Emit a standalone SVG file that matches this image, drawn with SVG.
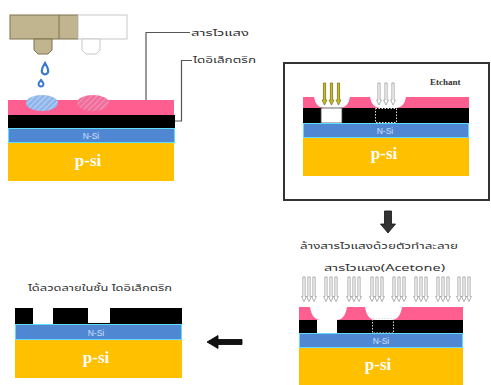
<svg xmlns="http://www.w3.org/2000/svg" width="491" height="385" viewBox="0 0 491 385">
  <defs>
    <style>
      .pink{fill:#ff5f90}
      .black{fill:#000}
      .nsi{fill:#4f87d3;stroke:#5fdcff;stroke-width:1}
      .psi{fill:#ffc000}
      .lbl-n{font-family:"Liberation Sans",Arial,sans-serif;font-size:8.5px;fill:#cfe0ff;text-anchor:middle}
      .lbl-p{font-family:"Liberation Serif","Times New Roman",serif;font-size:17px;font-weight:bold;fill:#fff;text-anchor:middle}
      .thai{font-family:"Noto Sans Thai","Tahoma","Noto Sans","DejaVu Sans",sans-serif;font-size:9.5px;fill:#333}
      .leader{fill:none;stroke:#555;stroke-width:1.2}
      .dots{fill:none;stroke:#ddd;stroke-width:1;stroke-dasharray:1.5 1.5}
      .etch{fill:#cbbd1c;stroke:#6d6510;stroke-width:0.7}
      .rinse{fill:#fff;stroke:#9a9a9a;stroke-width:0.8}
    </style>
    <pattern id="hatchBlue" width="4" height="4" patternUnits="userSpaceOnUse" patternTransform="rotate(45)">
      <rect width="4" height="4" fill="#8fb6ea"/>
      <line x1="0" y1="0" x2="0" y2="4" stroke="#d8e6fb" stroke-width="1.2"/>
    </pattern>
    <pattern id="hatchPink" width="4" height="4" patternUnits="userSpaceOnUse" patternTransform="rotate(45)">
      <rect width="4" height="4" fill="#f06d9c"/>
      <line x1="0" y1="0" x2="0" y2="4" stroke="#f9b3cc" stroke-width="1.2"/>
    </pattern>
    <!-- downward arrows, shaft outlined, origin at top centre -->
    <path id="arrowDown" d="M-1.1,0 V17 H-2.4 L0,22 L2.4,17 H1.1 V0 Z"/>
    <path id="arrowDownLong" d="M-1.1,0 V19.5 H-2.4 L0,24.5 L2.4,19.5 H1.1 V0 Z"/>
    <g id="rinseGroup" class="rinse">
      <use href="#arrowDownLong" x="0"/>
      <use href="#arrowDownLong" x="5"/>
      <use href="#arrowDownLong" x="10"/>
    </g>
  </defs>

  <rect width="491" height="385" fill="#fff"/>

  <!-- Step 1: inkjet printing of photoresist -->
  <g id="step1">
    <g id="printhead">
      <rect x="10" y="15" width="68" height="24" fill="#c1b58f" stroke="#7d734f" stroke-width="1"/>
      <line x1="59" y1="15" x2="59" y2="39" stroke="#7d734f" stroke-width="1"/>
      <rect x="78" y="15" width="49" height="24" fill="#fff" stroke="#c8c8c8" stroke-width="1"/>
      <path d="M34,39 L34,50 L38,54 L48,54 L52,50 L52,39 Z" fill="#c1b58f" stroke="#7d734f" stroke-width="1"/>
      <path d="M82,39 L82,50 L86,54 L96,54 L100,50 L100,39 Z" fill="#fff" stroke="#c8c8c8" stroke-width="1"/>
      <path d="M45,63 Q48,68 48,70 A3.2,3.2 0 1 1 42,70 Q42,68 45,63 Z" fill="#fff" stroke="#3b78d0" stroke-width="2.2"/>
      <path d="M41,80 Q43.5,83 43.5,84 A2.5,2.5 0 1 1 38.5,84 Q38.5,83 41,80 Z" fill="#fff" stroke="#3b78d0" stroke-width="2"/>
    </g>
    <rect class="pink" x="8" y="100" width="166" height="15"/>
    <ellipse cx="42" cy="103" rx="16" ry="8" fill="url(#hatchBlue)"/>
    <ellipse cx="93" cy="103" rx="16" ry="8" fill="url(#hatchPink)"/>
    <rect class="black" x="8" y="115" width="167" height="13"/>
    <rect class="nsi" x="8.5" y="128.5" width="166" height="14"/>
    <rect class="psi" x="8" y="143" width="166" height="38"/>
    <text class="lbl-n" x="91" y="138.5">N-Si</text>
    <text class="lbl-p" x="88" y="166">p-si</text>
    <path class="leader" d="M146,100 V32.5 H190"/>
    <path class="leader" d="M175,121 H181.5 V60.5 H192"/>
    <text class="thai" x="191" y="36" textLength="58" lengthAdjust="spacingAndGlyphs">สารไวแสง</text>
    <text class="thai" x="193" y="63" textLength="63" lengthAdjust="spacingAndGlyphs">ไดอิเล็กตริก</text>
  </g>

  <!-- Step 2: etching through the openings -->
  <g id="step2">
    <rect x="284" y="63" width="205" height="137" fill="#fff" stroke="#333" stroke-width="2"/>
    <text x="430" y="85" font-family="Liberation Serif,'Times New Roman',serif" font-size="9" font-weight="bold" fill="#333">Etchant</text>
    <rect class="pink" x="303" y="97" width="166" height="11"/>
    <path d="M314,97 Q316,108 324,108 L340,108 Q348,108 350,97 Z" fill="#fff"/>
    <path d="M370,97 Q372,108 380,108 L396,108 Q404,108 406,97 Z" fill="#fff"/>
    <rect class="black" x="303" y="108" width="166" height="15"/>
    <rect x="321" y="108" width="21" height="15" fill="#fff" stroke="#444" stroke-width="0.8"/>
    <rect class="dots" x="375.5" y="108.5" width="21" height="14"/>
    <rect class="nsi" x="303.5" y="123.5" width="165" height="14"/>
    <rect class="psi" x="303" y="138" width="166" height="38"/>
    <text class="lbl-n" x="385" y="133.5">N-Si</text>
    <text class="lbl-p" x="384" y="159">p-si</text>
    <g class="etch">
      <use href="#arrowDown" x="324.5" y="83"/>
      <use href="#arrowDown" x="331.5" y="83"/>
      <use href="#arrowDown" x="338.5" y="83"/>
    </g>
    <g class="rinse">
      <use href="#arrowDown" x="379" y="83"/>
      <use href="#arrowDown" x="386" y="83"/>
      <use href="#arrowDown" x="393" y="83"/>
    </g>
  </g>

  <!-- Step 3: photoresist strip in acetone -->
  <g id="step3">
    <text class="thai" x="300" y="249" textLength="158" lengthAdjust="spacingAndGlyphs">ล้างสารไวแสงด้วยตัวทำละลาย</text>
    <text class="thai" x="324" y="271" textLength="121" lengthAdjust="spacingAndGlyphs">สารไวแสง(Acetone)</text>
    <use href="#rinseGroup" x="304" y="277"/>
    <use href="#rinseGroup" x="326" y="277"/>
    <use href="#rinseGroup" x="349" y="277"/>
    <use href="#rinseGroup" x="372" y="277"/>
    <use href="#rinseGroup" x="394" y="277"/>
    <use href="#rinseGroup" x="416" y="277"/>
    <use href="#rinseGroup" x="438" y="277"/>
    <use href="#rinseGroup" x="459" y="277"/>
    <rect class="pink" x="299" y="307" width="164" height="13"/>
    <path d="M310,307 Q312,320 321,320 L336,320 Q345,320 347,307 Z" fill="#fff"/>
    <path d="M365,307 Q367,320 376,320 L391,320 Q400,320 402,307 Z" fill="#fff"/>
    <rect class="black" x="299" y="320" width="164" height="13"/>
    <rect x="317" y="320" width="20" height="13" fill="#fff"/>
    <rect class="dots" x="372.5" y="318.5" width="21" height="14.5"/>
    <rect class="nsi" x="299.5" y="333.5" width="163" height="14"/>
    <rect class="psi" x="299" y="348" width="164" height="37"/>
    <text class="lbl-n" x="381" y="343.5">N-Si</text>
    <text class="lbl-p" x="378" y="370">p-si</text>
  </g>

  <!-- Step 4: patterned dielectric -->
  <g id="step4">
    <text class="thai" x="28" y="291" textLength="144" lengthAdjust="spacingAndGlyphs">ได้ลวดลายในชั้น ไดอิเล็กตริก</text>
    <rect class="black" x="15" y="308" width="167" height="16"/>
    <rect x="33" y="308" width="20" height="16" fill="#fff"/>
    <rect x="88" y="308" width="22" height="15" fill="#fff"/>
    <rect class="nsi" x="15.5" y="324.5" width="166" height="15"/>
    <rect class="psi" x="15" y="340" width="167" height="38"/>
    <text class="lbl-n" x="96" y="335.5">N-Si</text>
    <text class="lbl-p" x="96" y="363">p-si</text>
  </g>

  <!-- Process-flow arrows -->
  <g id="connectors">
    <path d="M384.5,211 H391.5 V224 H395.5 L388,233 L380.5,224 H384.5 Z" fill="#333" stroke="#111" stroke-width="0.8"/>
    <path d="M242,339.5 V344.5 H218 V348.5 L207,342 L218,335.5 V339.5 Z" fill="#111" stroke="#000" stroke-width="0.8"/>
  </g>
</svg>
